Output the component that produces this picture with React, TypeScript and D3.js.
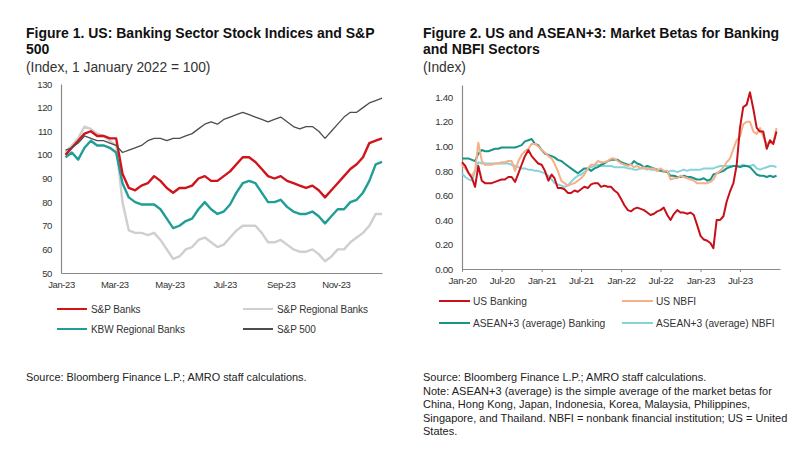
import * as d3 from 'd3';
import { useEffect, useRef } from 'react';

const FONT = 'Arial, "Liberation Sans", sans-serif';

// Figure 1: weekly readings, Jan-Dec 2023 (index)
const fig1Dates = d3.timeFriday.range(new Date(2023, 0, 6), new Date(2023, 11, 23));
const spBanks = [100, 103, 106, 109, 110, 108, 108, 107, 107, 92, 86, 85, 87, 88, 91, 89, 86, 84, 86, 86,
    87, 90, 91, 89, 89, 91, 93, 96, 99, 99, 97, 94, 91, 90, 91, 89, 88, 87, 86, 87,
    85, 82, 85, 88, 91, 94, 96, 99, 105, 106, 107];
const spRegional = [101, 104, 107, 112, 111, 109, 108, 106, 104, 80, 68, 67, 67, 66, 67, 64, 60, 56, 57, 60,
    61, 64, 65, 63, 61, 62, 65, 68, 70, 70, 70, 67, 63, 63, 64, 62, 60, 59, 59, 60,
    58, 55, 57, 60, 60, 63, 65, 67, 70, 75, 75];
const kbwRegional = [99, 101, 98, 103, 106, 104, 104, 103, 101, 88, 82, 80, 79, 79, 79, 77, 73, 69, 70, 72,
    73, 77, 80, 77, 75, 76, 79, 84, 88, 89, 88, 84, 80, 80, 81, 78, 76, 75, 75, 76,
    74, 71, 74, 77, 77, 80, 81, 84, 89, 96, 97];
const sp500 = [102, 103, 105, 108, 107, 106, 106, 105, 104, 101, 102, 103, 104, 106, 107, 107, 106, 107, 107, 108,
    109, 111, 113, 114, 113, 115, 116, 117, 118, 117, 116, 115, 114, 115, 116, 114, 112, 111, 112, 112,
    110, 107, 110, 113, 116, 118, 118, 120, 122, 123, 124];
const fig1TickDates = [new Date(2023, 0, 1), new Date(2023, 2, 1), new Date(2023, 4, 1),
    new Date(2023, 6, 1), new Date(2023, 8, 1), new Date(2023, 10, 1)];
const fig1YTicks = [50, 60, 70, 80, 90, 100, 110, 120, 130];

// Figure 2: semi-monthly readings, Jan 2020 - Dec 2023 (beta)
const fig2Dates = d3.timeMonth.range(new Date(2020, 0, 1), new Date(2024, 0, 1))
    .flatMap((m) => [m, d3.timeDay.offset(m, 15)]);
const usBanking = [0.87, 0.84, 0.78, 0.74, 0.67, 0.84, 0.72, 0.70, 0.70, 0.70, 0.71, 0.72, 0.73, 0.73, 0.75, 0.75,
    0.71, 0.78, 0.85, 0.92, 0.97, 0.92, 0.89, 0.86, 0.85, 0.80, 0.72, 0.77, 0.74, 0.66, 0.66, 0.65,
    0.62, 0.62, 0.64, 0.63, 0.65, 0.67, 0.66, 0.69, 0.70, 0.70, 0.67, 0.68, 0.67, 0.67, 0.64, 0.62,
    0.57, 0.52, 0.48, 0.47, 0.49, 0.50, 0.49, 0.48, 0.46, 0.44, 0.45, 0.47, 0.48, 0.50, 0.44, 0.40,
    0.45, 0.48, 0.46, 0.46, 0.45, 0.46, 0.44, 0.36, 0.27, 0.24, 0.23, 0.21, 0.17, 0.40, 0.40, 0.43,
    0.55, 0.63, 0.70, 0.85, 1.15, 1.32, 1.34, 1.44, 1.30, 1.15, 1.12, 1.12, 0.98, 1.05, 1.02, 1.12];
const usNbfi = [0.85, 0.82, 0.78, 0.76, 0.80, 1.03, 0.88, 0.85, 0.85, 0.85, 0.86, 0.86, 0.87, 0.87, 0.88, 0.88,
    0.80, 0.88, 0.93, 0.96, 0.98, 1.02, 1.02, 1.00, 0.97, 0.95, 0.92, 0.90, 0.86, 0.80, 0.72, 0.70,
    0.68, 0.69, 0.70, 0.72, 0.74, 0.77, 0.82, 0.85, 0.85, 0.88, 0.87, 0.87, 0.88, 0.90, 0.90, 0.88,
    0.86, 0.85, 0.84, 0.85, 0.83, 0.84, 0.82, 0.83, 0.81, 0.82, 0.82, 0.80, 0.82, 0.80, 0.80, 0.73,
    0.74, 0.74, 0.76, 0.75, 0.74, 0.73, 0.72, 0.70, 0.70, 0.70, 0.70, 0.71, 0.73, 0.78, 0.80, 0.83,
    0.87, 0.90, 0.98, 1.05, 1.08, 1.18, 1.20, 1.20, 1.12, 1.10, 1.15, 1.08, 1.02, 1.03, 1.02, 1.15];
const aseanBanking = [0.90, 0.90, 0.90, 0.89, 0.88, 0.94, 0.97, 0.96, 0.96, 0.97, 0.98, 0.98, 0.99, 0.99, 0.99, 0.99,
    0.99, 1.00, 1.01, 1.04, 1.05, 1.06, 1.02, 1.01, 0.97, 0.94, 0.93, 0.92, 0.91, 0.89, 0.88, 0.86,
    0.84, 0.82, 0.80, 0.78, 0.80, 0.82, 0.82, 0.80, 0.82, 0.83, 0.85, 0.86, 0.88, 0.89, 0.89, 0.89,
    0.87, 0.86, 0.85, 0.85, 0.88, 0.86, 0.85, 0.83, 0.84, 0.83, 0.82, 0.81, 0.80, 0.80, 0.79, 0.76,
    0.76, 0.75, 0.75, 0.76, 0.75, 0.75, 0.74, 0.73, 0.73, 0.74, 0.72, 0.73, 0.77, 0.78, 0.79, 0.80,
    0.82, 0.83, 0.84, 0.84, 0.83, 0.84, 0.84, 0.83, 0.80, 0.77, 0.76, 0.76, 0.75, 0.76, 0.75, 0.76];
const aseanNbfi = [0.78, 0.75, 0.73, 0.72, 0.80, 0.87, 0.86, 0.86, 0.86, 0.86, 0.86, 0.86, 0.86, 0.86, 0.86, 0.85,
    0.84, 0.83, 0.82, 0.82, 0.81, 0.81, 0.80, 0.80, 0.79, 0.78, 0.76, 0.73, 0.70, 0.69, 0.68, 0.67,
    0.68, 0.71, 0.74, 0.76, 0.77, 0.79, 0.82, 0.83, 0.84, 0.85, 0.84, 0.84, 0.84, 0.84, 0.83, 0.83,
    0.83, 0.83, 0.82, 0.82, 0.81, 0.81, 0.82, 0.82, 0.82, 0.81, 0.81, 0.80, 0.80, 0.79, 0.79, 0.80,
    0.80, 0.79, 0.80, 0.81, 0.80, 0.81, 0.81, 0.81, 0.81, 0.82, 0.82, 0.82, 0.82, 0.83, 0.84, 0.84,
    0.84, 0.84, 0.84, 0.84, 0.84, 0.85, 0.84, 0.84, 0.85, 0.82, 0.81, 0.82, 0.83, 0.84, 0.84, 0.83];
const fig2TickDates = d3.timeMonth.every(6)!.range(new Date(2020, 0, 1), new Date(2023, 11, 1));
const fig2YTicks = [0, 0.2, 0.4, 0.6, 0.8, 1.0, 1.2, 1.4];

const noteLines = [
    'Source: Bloomberg Finance L.P.; AMRO staff calculations.',
    'Note: ASEAN+3 (average) is the simple average of the market betas for',
    'China, Hong Kong, Japan, Indonesia, Korea, Malaysia, Philippines,',
    'Singapore, and Thailand. NBFI = nonbank financial institution; US = United',
    'States.',
];

export default function App() {
    const ref = useRef<any>();

    useEffect(() => {
        const svg = d3.select<any, any>(ref.current);
        svg.selectAll('*').remove();
        svg.style('font-family', FONT);

        const text = (x: number, y: number, s: string, size: number, weight = 'normal', fill = '#222') =>
            svg.append('text').attr('x', x).attr('y', y).attr('font-size', size)
                .attr('font-weight', weight).attr('fill', fill).text(s);

        // titles
        text(26, 38, 'Figure 1. US: Banking Sector Stock Indices and S&P', 14, 'bold', '#111');
        text(26, 54, '500', 14, 'bold', '#111');
        text(26, 72, '(Index, 1 January 2022 = 100)', 13.8, 'normal', '#333');
        text(423, 38, 'Figure 2. US and ASEAN+3: Market Betas for Banking', 14, 'bold', '#111');
        text(423, 54, 'and NBFI Sectors', 14, 'bold', '#111');
        text(423, 72, '(Index)', 13.8, 'normal', '#333');

        // ---- Figure 1
        const x1 = d3.scaleTime().domain([new Date(2023, 0, 1), new Date(2023, 11, 22)]).range([61, 382]);
        const y1 = d3.scaleLinear().domain([50, 130]).range([273, 84]);

        const g1 = svg.append('g');
        const yAxis1 = g1.append('g').attr('transform', 'translate(61,0)')
            .call(d3.axisLeft(y1).tickValues(fig1YTicks).tickSize(0).tickPadding(9).tickFormat((v: any) => `${v}`));
        const xAxis1 = g1.append('g').attr('transform', 'translate(0,273)')
            .call(d3.axisBottom(x1).tickValues(fig1TickDates).tickSize(0).tickPadding(8)
                .tickFormat((d: any) => d3.timeFormat('%b-%y')(d)));
        [yAxis1, xAxis1].forEach((a) => {
            a.select('.domain').attr('stroke', '#8a8a8a').attr('stroke-width', 1.2);
            a.selectAll('text').attr('font-size', 9.5).attr('fill', '#333').attr('font-family', FONT)
                .attr('letter-spacing', -0.4);
        });

        const line1 = (vals: number[]) => d3.line<number>()
            .x((_, i) => x1(fig1Dates[i]))
            .y((d) => y1(d))(vals);

        const fig1Series = [
            { name: 'S&P Regional Banks', values: spRegional, color: '#cfcfcf', width: 2.4 },
            { name: 'KBW Regional Banks', values: kbwRegional, color: '#1e9e95', width: 2.4 },
            { name: 'S&P Banks', values: spBanks, color: '#d0141c', width: 2.4 },
            { name: 'S&P 500', values: sp500, color: '#4d4d4d', width: 1.3 },
        ];
        fig1Series.forEach((s) => {
            g1.append('path').attr('d', line1(s.values)).attr('fill', 'none')
                .attr('stroke', s.color).attr('stroke-width', s.width).attr('stroke-linejoin', 'round');
        });

        const legend1 = [
            { name: 'S&P Banks', color: '#d0141c', x: 57, y: 309 },
            { name: 'S&P Regional Banks', color: '#cfcfcf', x: 243, y: 309 },
            { name: 'KBW Regional Banks', color: '#1e9e95', x: 57, y: 329 },
            { name: 'S&P 500', color: '#4d4d4d', x: 243, y: 329 },
        ];
        legend1.forEach((l) => {
            svg.append('line').attr('x1', l.x).attr('x2', l.x + 30).attr('y1', l.y).attr('y2', l.y)
                .attr('stroke', l.color).attr('stroke-width', 2);
            text(l.x + 34, l.y + 3.5, l.name, 10, 'normal', '#333').attr('letter-spacing', -0.1);
        });

        text(26, 381, 'Source: Bloomberg Finance L.P.; AMRO staff calculations.', 10.9, 'normal', '#222');

        // ---- Figure 2
        const x2 = d3.scaleTime().domain([new Date(2020, 0, 1), new Date(2024, 0, 1)]).range([462, 780]);
        const y2 = d3.scaleLinear().domain([0, 1.5]).range([269, 85]);

        const g2 = svg.append('g');
        const yAxis2 = g2.append('g').attr('transform', 'translate(462,0)')
            .call(d3.axisLeft(y2).tickValues(fig2YTicks).tickSize(0).tickPadding(9)
                .tickFormat((v: any) => d3.format('.2f')(v)));
        const xAxis2 = g2.append('g').attr('transform', 'translate(0,269)')
            .call(d3.axisBottom(x2).tickValues(fig2TickDates).tickSizeInner(3).tickSizeOuter(0).tickPadding(5)
                .tickFormat((d: any) => d3.timeFormat('%b-%y')(d)));
        [yAxis2, xAxis2].forEach((a) => {
            a.select('.domain').attr('stroke', '#8a8a8a').attr('stroke-width', 1.2);
            a.selectAll('line').attr('stroke', '#8a8a8a');
            a.selectAll('text').attr('font-size', 9.8).attr('fill', '#333').attr('font-family', FONT)
                .attr('letter-spacing', -0.3);
        });

        const line2 = (vals: number[]) => d3.line<number>()
            .x((_, i) => x2(fig2Dates[i]))
            .y((d) => y2(d))(vals);

        const fig2Series = [
            { name: 'ASEAN+3 (average) NBFI', values: aseanNbfi, color: '#86d3da' },
            { name: 'ASEAN+3 (average) Banking', values: aseanBanking, color: '#1a9486' },
            { name: 'US NBFI', values: usNbfi, color: '#f4b08a' },
            { name: 'US Banking', values: usBanking, color: '#c8101a' },
        ];
        fig2Series.forEach((s) => {
            g2.append('path').attr('d', line2(s.values)).attr('fill', 'none')
                .attr('stroke', s.color).attr('stroke-width', 2).attr('stroke-linejoin', 'round');
        });

        const legend2 = [
            { name: 'US Banking', color: '#c8101a', x: 439, y: 301 },
            { name: 'US NBFI', color: '#f4b08a', x: 622, y: 301 },
            { name: 'ASEAN+3 (average) Banking', color: '#1a9486', x: 439, y: 323 },
            { name: 'ASEAN+3 (average) NBFI', color: '#86d3da', x: 622, y: 323 },
        ];
        legend2.forEach((l) => {
            svg.append('line').attr('x1', l.x).attr('x2', l.x + 31).attr('y1', l.y).attr('y2', l.y)
                .attr('stroke', l.color).attr('stroke-width', 2);
            text(l.x + 34, l.y + 3.5, l.name, 10.2, 'normal', '#333');
        });

        noteLines.forEach((s, i) => {
            text(423, 381 + i * 13.5, s, 11, 'normal', '#222');
        });
    });

    return (
        <svg ref={ref} width={800} height={450}
            style={{ position: 'absolute', left: 0, top: 0, background: '#fff' }} />
    );
}
